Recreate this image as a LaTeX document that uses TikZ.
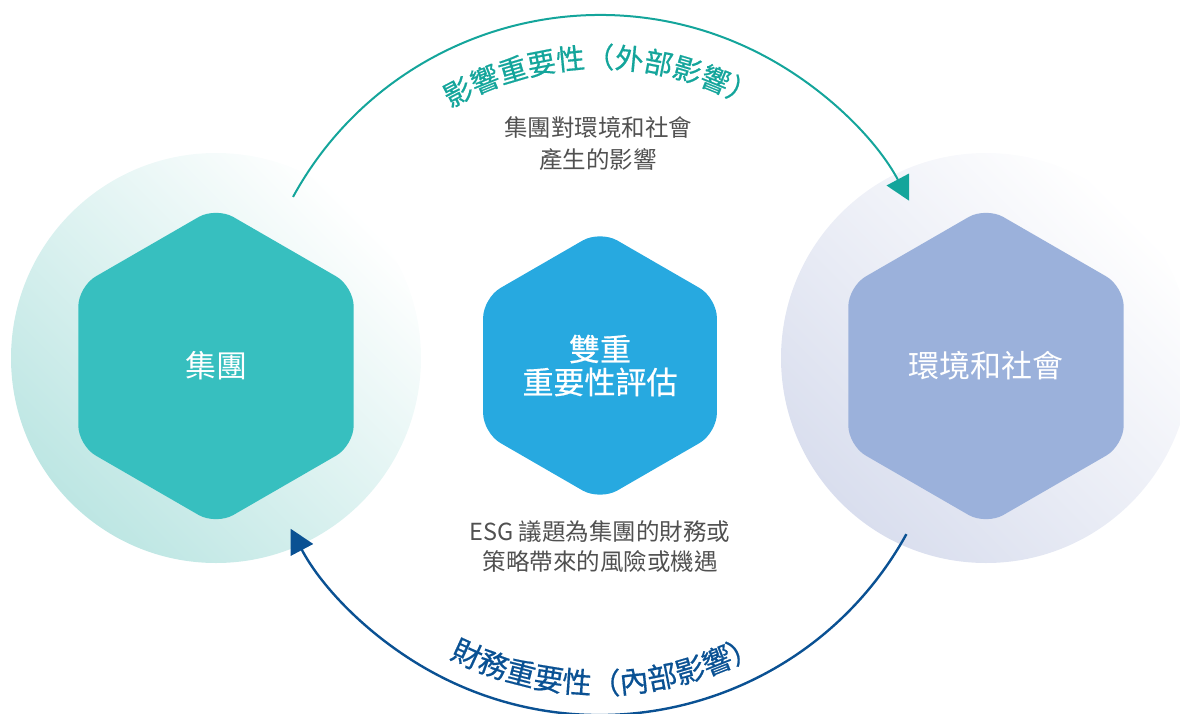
\documentclass[tikz,border=0pt]{standalone}
\usepackage{fontspec}
\newfontfamily\cjk{Noto Sans CJK TC}
\newfontfamily\cjkmed[FakeBold=0.5]{Noto Sans CJK TC}
\usepackage{tikz}
\usetikzlibrary{arrows.meta,shapes.geometric,decorations.text}
\definecolor{grpteal}{HTML}{37BFBF}
\definecolor{envblue}{HTML}{9BB1DB}
\definecolor{midblue}{HTML}{27A9E0}
\definecolor{grpring}{HTML}{BDE6E3}
\definecolor{envring}{HTML}{D9DEEE}
\definecolor{impteal}{HTML}{14A59B}
\definecolor{findark}{HTML}{0A5193}
\definecolor{desctext}{HTML}{505050}

\begin{document}
\begin{tikzpicture}[
  ring/.style={circle,minimum size=410bp,inner sep=0pt,top color=white,bottom color=#1,shading angle=-45},
  hexbox/.style={regular polygon,regular polygon sides=6,shape border rotate=30,rounded corners=20bp,inner sep=0pt,text=white,font=\cjk\fontsize{31bp}{33bp}\selectfont},
  desc/.style={align=center,text=desctext,font=\cjk\fontsize{23.5bp}{32bp}\selectfont},
  impact/.style={line width=2bp,draw=impteal,-{Triangle[length=24bp,width=25bp]}},
  finance/.style={line width=2.4bp,draw=findark,-{Triangle[length=24bp,width=25bp]}}]

\useasboundingbox (0bp,0bp) rectangle (1180bp,-714bp);

\node (GR) at (216bp,-358bp)[ring=grpring] {};
\node (ER) at (986bp,-358bp)[ring=envring] {};

\node (G) at (216bp,-366bp)[hexbox,fill=grpteal,minimum size=318bp] {集團};
\node (E) at (986bp,-366bp)[hexbox,fill=envblue,minimum size=318bp] {環境和社會};
\node (M) at (600bp,-365.5bp)[hexbox,fill=midblue,minimum size=270bp,align=center,font=\cjkmed\fontsize{31bp}{33bp}\selectfont] {雙重\\重要性評估};

\node (T1) at (598bp,-144bp)[desc] {集團對環境和社會\\產生的影響};
\node (T2) at (600bp,-547bp)[desc,font=\cjk\fontsize{23.5bp}{30bp}\selectfont] {ESG 議題為集團的財務或\\策略帶來的風險或機遇};

\coordinate (C) at (600bp,-365bp);
\path (C) ++(151.3:350bp) coordinate (A1);
\path (C) ++(-28.9:350bp) coordinate (B1);
\draw[impact] (A1) arc[start angle=151.3,end angle=28,radius=350bp];
\draw[finance] (B1) arc[start angle=-28.9,end angle=-152.1,radius=350bp];

\path (C) ++(150:297bp) coordinate (L1);
\path (C) ++(-149:329bp) coordinate (L2);
\path[decorate,decoration={text along path,text align=center,text color=impteal,
  text={|\cjkmed\fontsize{28.5bp}{28.5bp}\selectfont|影響重要性（外部影響）}}]
  (L1) arc[start angle=150,end angle=30,radius=297bp];
\path[decorate,decoration={text along path,text align=center,text color=findark,
  text={|\cjkmed\fontsize{29.5bp}{29.5bp}\selectfont|財務重要性（內部影響）}}]
  (L2) arc[start angle=-149,end angle=-29,radius=329bp];
\end{tikzpicture}
\end{document}
